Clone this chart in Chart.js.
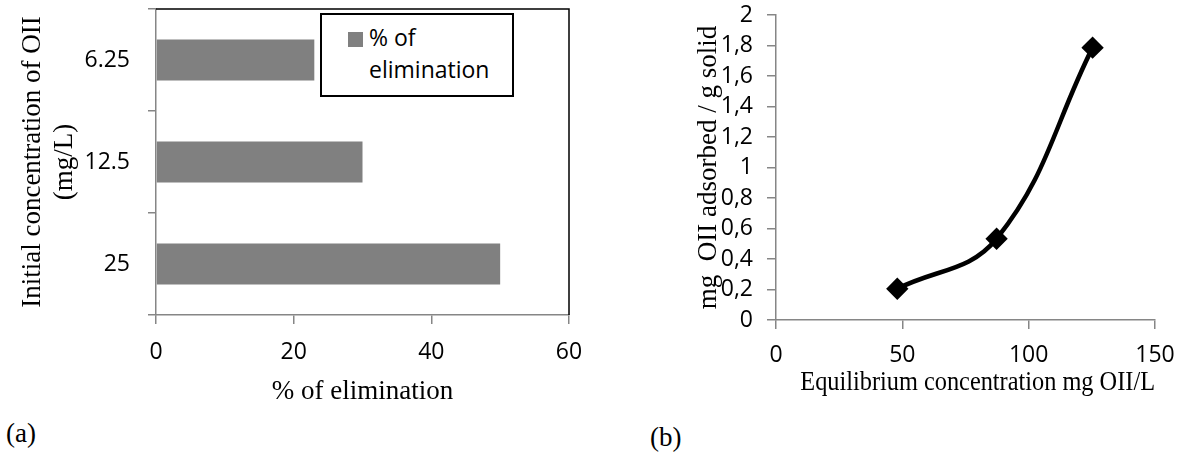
<!DOCTYPE html>
<html>
<head>
<meta charset="utf-8">
<script src="https://cdn.jsdelivr.net/npm/chart.js@4.4.1/dist/chart.umd.min.js"></script>
<style>
  html, body { margin:0; padding:0; background:#fff; }
  body { width:1182px; height:465px; position:relative; overflow:hidden; }
  .box { position:absolute; }
  #wrapA { left:0; top:0; width:590px; height:410px; }
  #wrapB { left:690px; top:0; width:492px; height:410px; }
  .lbl { position:absolute; font-family:"Liberation Serif", "Times New Roman", serif; font-size:27px; color:#000; line-height:1; }
  #legend { position:absolute; left:320px; top:13px; width:190px; height:80px; border:2px solid #000; background:#fff;
            font-family:"Open Sans", sans-serif; font-size:23px; color:#000; }
  #legend .sw { position:absolute; left:26px; top:17px; width:15px; height:15px; background:#808080; }
  #legend .t1 { position:absolute; left:47px; top:6px; line-height:32px; }
</style>
</head>
<body>
<div class="box" id="wrapA"><canvas id="cA" width="590" height="410"></canvas></div>
<div class="box" id="wrapB"><canvas id="cB" width="492" height="410"></canvas></div>
<div id="legend"><div class="sw"></div><div class="t1">% of<br>elimination</div></div>
<div class="lbl" style="left:6px; top:420px;">(a)</div>
<div class="lbl" style="left:650px; top:424px;">(b)</div>
<script>
// ---- data (a) ----
const barCategories = ['6.25', '12.5', '25'];
const barValues = [23, 30, 50];
const barSeriesName = '% of elimination';
const barXTicks = [0, 20, 40, 60];
// ---- data (b) ----
const eqConcentration = [48, 87.3, 125.3];
const adsorbedAmount = [0.205, 0.533, 1.786];
const lineXTicks = [0, 50, 100, 150];
const lineYTicks = [0, 0.2, 0.4, 0.6, 0.8, 1, 1.2, 1.4, 1.6, 1.8, 2];

const AXIS_GRAY = '#868686';
const SANS = '"Open Sans", sans-serif';
const SERIF = '"Liberation Serif", "Times New Roman", serif';

function fixBox(size, isHeight) {
  return s => {
    if (isHeight) s.height = size; else s.width = size;
    s.paddingTop = 0; s.paddingBottom = 0; s.paddingLeft = 0; s.paddingRight = 0;
  };
}

const frame = {
  id: 'frame',
  afterDraw(chart) {
    const { ctx, chartArea: a } = chart;
    ctx.save();
    ctx.strokeStyle = '#000';
    ctx.lineWidth = 1.5;
    ctx.beginPath();
    ctx.moveTo(a.left, a.top);
    ctx.lineTo(a.right, a.top);
    ctx.lineTo(a.right, a.bottom);
    ctx.stroke();
    ctx.restore();
  }
};

new Chart(document.getElementById('cA'), {
  type: 'bar',
  data: {
    labels: barCategories,
    datasets: [{
      label: barSeriesName,
      data: barValues,
      backgroundColor: '#808080',
      borderWidth: 0,
      barPercentage: 0.5,
      categoryPercentage: 0.8
    }]
  },
  options: {
    indexAxis: 'y',
    responsive: false,
    animation: false,
    layout: { padding: { top: 9, right: 21, left: 0, bottom: 0 } },
    plugins: { legend: { display: false }, tooltip: { enabled: false } },
    scales: {
      x: {
        min: barXTicks[0], max: barXTicks[barXTicks.length - 1],
        afterBuildTicks: s => { s.ticks = barXTicks.map(v => ({ value: v })); },
        afterFit: fixBox(95, true),
        border: { color: AXIS_GRAY, width: 1.5 },
        grid: { drawOnChartArea: false, drawTicks: true, tickLength: 9, color: AXIS_GRAY, lineWidth: 1.5 },
        ticks: { color: '#000', font: { family: SANS, size: 23 }, padding: 15, maxRotation: 0, autoSkip: false },
        title: { display: true, text: '% of elimination', color: '#000',
                 font: { family: SERIF, size: 27, lineHeight: 1.2 }, padding: { top: 0, bottom: 2 } }
      },
      y: {
        afterFit: fixBox(156, false),
        border: { color: AXIS_GRAY, width: 1.5 },
        grid: { drawOnChartArea: false, drawTicks: true, tickLength: 8, color: AXIS_GRAY, lineWidth: 1.5, offset: true },
        ticks: { color: '#000', font: { family: SANS, size: 23 }, padding: 18, autoSkip: false },
        title: { display: true, text: ['Initial concentration of OII', '(mg/L)'], color: '#000',
                 font: { family: SERIF, size: 27, lineHeight: 1.18 }, padding: { top: 17, bottom: 0 } }
      }
    }
  },
  plugins: [frame]
});

new Chart(document.getElementById('cB'), {
  type: 'line',
  data: {
    datasets: [{
      data: eqConcentration.map((x, i) => ({ x: x, y: adsorbedAmount[i] })),
      borderColor: '#000',
      backgroundColor: '#000',
      borderWidth: 4.5,
      tension: 0.4,
      pointStyle: 'rectRot',
      pointRadius: 8,
      pointBackgroundColor: '#000',
      pointBorderColor: '#000',
      fill: false
    }]
  },
  options: {
    responsive: false,
    animation: false,
    layout: { padding: { top: 15, right: 27, left: 0, bottom: 0 } },
    plugins: { legend: { display: false }, tooltip: { enabled: false } },
    scales: {
      x: {
        type: 'linear',
        min: lineXTicks[0], max: lineXTicks[lineXTicks.length - 1],
        afterBuildTicks: s => { s.ticks = lineXTicks.map(v => ({ value: v })); },
        afterFit: fixBox(90, true),
        border: { color: AXIS_GRAY, width: 1.5 },
        grid: { drawOnChartArea: false, drawTicks: true, tickLength: 9, color: AXIS_GRAY, lineWidth: 1.5 },
        ticks: { color: '#000', font: { family: SANS, size: 23 }, padding: 13, maxRotation: 0, autoSkip: false },
        title: { display: true, text: '    Equilibrium concentration mg OII/L', color: '#000',
                 font: { family: SERIF, size: 27, lineHeight: 1.2 }, padding: { top: 0, bottom: 11 } }
      },
      y: {
        type: 'linear',
        min: lineYTicks[0], max: lineYTicks[lineYTicks.length - 1],
        afterBuildTicks: s => { s.ticks = lineYTicks.map(v => ({ value: v })); },
        afterFit: fixBox(86, false),
        border: { color: AXIS_GRAY, width: 1.5 },
        grid: { drawOnChartArea: false, drawTicks: true, tickLength: 9, color: AXIS_GRAY, lineWidth: 1.5 },
        ticks: { color: '#000', font: { family: SANS, size: 23 }, padding: 14, autoSkip: false,
                 callback: v => String(Number(v.toFixed(1))).replace('.', ',') },
        title: { display: true, text: 'mg  OII adsorbed / g solid', color: '#000',
                 font: { family: SERIF, size: 27, lineHeight: 1.2 }, padding: { top: 3, bottom: 0 } }
      }
    }
  }
});
</script>
</body>
</html>
